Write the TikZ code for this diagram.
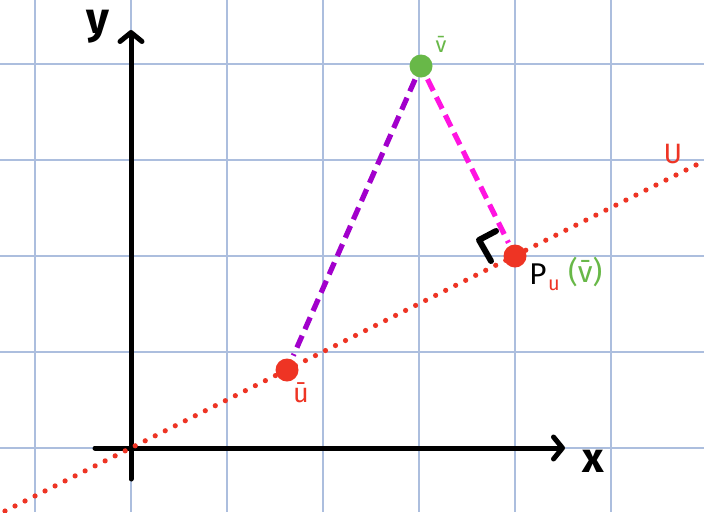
\documentclass[tikz,border=0pt]{standalone}
\usepackage{fontspec}
\setmainfont{Fira Sans}
\usetikzlibrary{arrows.meta}
\definecolor{gridc}{RGB}{172,190,222}
\definecolor{redc}{RGB}{238,52,36}
\definecolor{greenc}{RGB}{104,184,72}
\definecolor{purplec}{RGB}{162,0,204}
\definecolor{magentac}{RGB}{255,20,225}
\tikzset{
  gridline/.style={gridc, line width=1.2pt},
  axis/.style={black, line width=5pt, line cap=round, -{Straight Barb[length=9pt,width=22pt,line cap=round,round]}},
  dotpt/.style={circle, inner sep=0pt, minimum size=23pt},
  redline/.style={redc, line width=5.2pt, line cap=round, dash pattern=on 0pt off 11.2pt},
  dashline/.style={line width=5.2pt, dash pattern=on 13pt off 7pt},
  lbl/.style={inner sep=0pt},
}
\begin{document}
\begin{tikzpicture}[x=1pt,y=-1pt]
\useasboundingbox (0,0) rectangle (704,512);
\fill[white] (0,0) rectangle (704,512);
% grid
\foreach \gx in {35,131,227,323,419,515,611}
  \draw[gridline] (\gx,0) -- (\gx,512);
\foreach \gy in {64,160,256,352,448}
  \draw[gridline] (0,\gy) -- (704,\gy);
% axes
\coordinate (xs) at (95,448);
\coordinate (xe) at (565,448);
\coordinate (ys) at (131,479);
\coordinate (ye) at (131,30);
\draw[axis] (xs) -- (xe);
\draw[axis] (ys) -- (ye);
\node[lbl, font=\fontsize{44}{44}\selectfont\bfseries] (ylab) at (98,27) {y};
\node[lbl, font=\fontsize{42}{42}\selectfont\bfseries] (xlab) at (593,461) {x};
% line U
\coordinate (ls) at (5,511);
\coordinate (le) at (700,163);
\draw[redline] (ls) -- (le);
\node[lbl, text=redc, font=\fontsize{28}{28}\selectfont] (Ulab) at (673,154) {U};
% points
\node[dotpt, fill=greenc] (v) at (421,66) {};
\node[dotpt, fill=redc] (u) at (287,370) {};
\node[dotpt, fill=redc] (P) at (515,256) {};
% dashed connectors
\draw[dashline, purplec, shorten <=3pt, shorten >=4pt] (v) -- (u);
\draw[dashline, magentac, shorten <=3pt, shorten >=3pt] (v) -- (P);
% right angle mark
\coordinate (ra1) at (496,231);
\coordinate (ra2) at (479,240);
\coordinate (ra3) at (491,261);
\draw[black, line width=6pt, line cap=round, line join=round] (ra1) -- (ra2) -- (ra3);
% labels
\node[lbl, text=greenc, font=\fontsize{22}{22}\selectfont] (vlab) at (441,44) {\={v}};
\node[lbl, text=redc, font=\fontsize{27}{27}\selectfont] (ulab) at (301,393) {\={u}};
\node[lbl, anchor=base west, font=\fontsize{30}{30}\selectfont] (Plab) at (529,284) {P};
\node[lbl, anchor=base west, text=redc, font=\fontsize{20}{20}\selectfont] (Psub) at (548,290) {u};
\node[lbl, anchor=base west, text=greenc, font=\fontsize{30}{30}\selectfont] (Parg) at (568,282) {(\={v})};
\end{tikzpicture}
\end{document}
